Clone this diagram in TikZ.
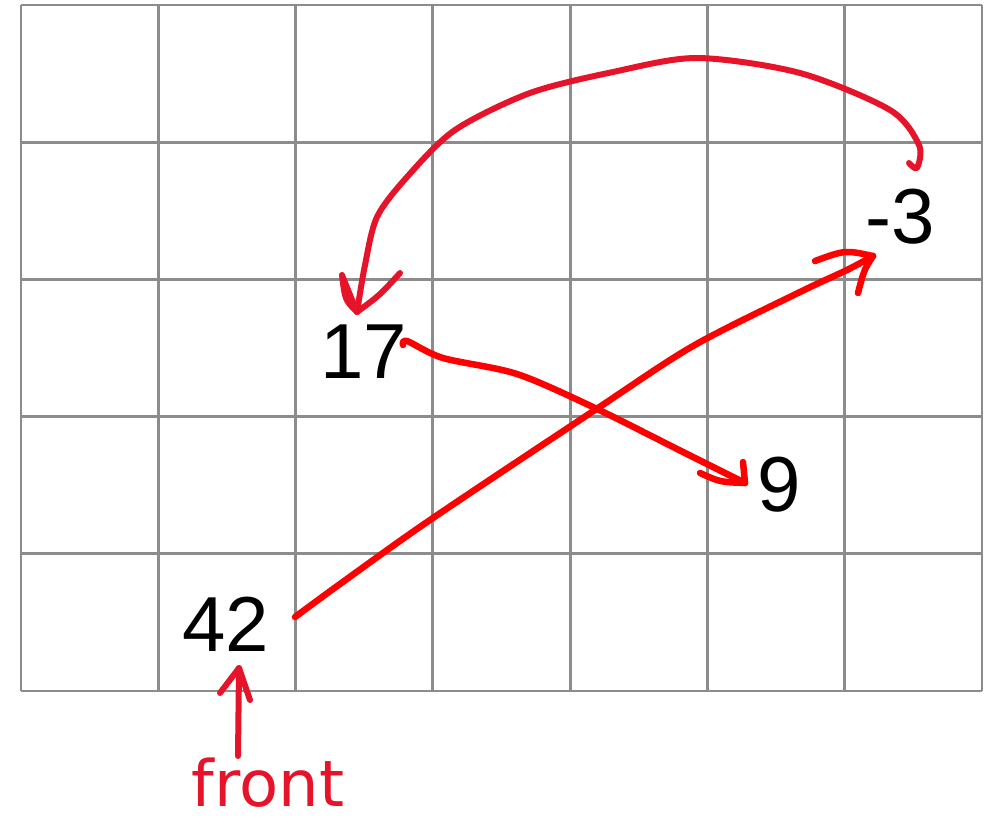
\documentclass[tikz,border=0pt]{standalone}
\usepackage{fontspec}
\setmainfont{Liberation Sans}
\newfontfamily\handfont{DejaVu Sans}
\definecolor{gridgray}{RGB}{140,140,140}
\definecolor{penred}{RGB}{255,0,0}
\definecolor{pencrimson}{RGB}{230,20,42}
\begin{document}
\begin{tikzpicture}[x=1pt,y=-1pt,
  gridline/.style={draw=gridgray,line width=2.8pt},
  num/.style={inner sep=0pt,anchor=base,font=\fontsize{78}{80}\selectfont},
  redpen/.style={draw=penred,line width=6.5pt,line cap=round,line join=round},
  crimpen/.style={draw=pencrimson,line width=6pt,line cap=round,line join=round},
  fronttext/.style={inner sep=0pt,anchor=base,text=pencrimson,font=\handfont\fontsize{64}{66}\selectfont}]
\path[use as bounding box] (0,0) rectangle (984,827);
\fill[white] (0,0) rectangle (984,827);
% grid
\foreach \i in {0,...,7}{
  \draw[gridline] ({21+\i*137.29},5) -- ({21+\i*137.29},691);
}
\foreach \j in {0,...,5}{
  \draw[gridline] (21,{5+\j*137.2}) -- (982,{5+\j*137.2});
}
% numbers
\node[num] (n42) at (226,651) {42};
\node[num] (n17) at (364,378) {17};
\node[num] (n9) at (779,511) {9};
\node[num] (nm3) at (900,243) {-3};
\node[fronttext] (front) at (268,806) {front};
% connector end points
\coordinate (a1s) at (295,617);
\coordinate (a1t) at (873,256);
\coordinate (a2s) at (403,345);
\coordinate (a2t) at (745,483);
\coordinate (a3s) at (909,163);
\coordinate (a3t) at (357,312);
\coordinate (a4s) at (238,756);
\coordinate (a4t) at (239,668);
% 42 -> -3
\draw[redpen] plot[smooth,tension=0.5] coordinates {(a1s) (340,584) (430,520) (595,410) (693,346) (800,292) (847,270) (a1t)};
\draw[redpen] (a1t) .. controls (845,250) .. (815,261);
\draw[redpen] (a1t) .. controls (864,270) .. (858,293);
% 17 -> 9
\draw[redpen] plot[smooth,tension=0.5] coordinates {(a2s) (407,341) (443,358) (517,374) (595,408) (683,452) (a2t)};
\draw[redpen] (a2t) .. controls (720,482) .. (700,473);
\draw[redpen] (a2t) -- (743,462);
% -3 -> 17
\draw[crimpen] plot[smooth,tension=0.5] coordinates {(a3s) (917,168) (919,145) (890,110) (800,73) (697,58) (613,72) (530,93) (455,130) (407,177) (377,217) (365,265) (a3t)};
\draw[crimpen] (a3t) .. controls (345,300) .. (342,275) .. controls (348,290) .. (a3t);
\draw[crimpen] (a3t) .. controls (380,295) .. (400,273);
% front -> 42
\draw[crimpen,line width=6pt] (a4s) -- (a4t);
\draw[crimpen,line width=6pt] (220,693) -- (a4t) -- (250,700);
\end{tikzpicture}
\end{document}
